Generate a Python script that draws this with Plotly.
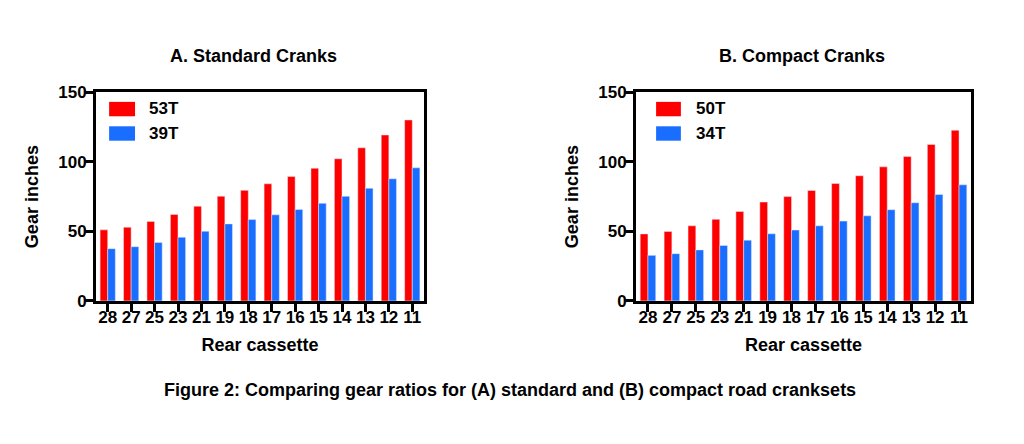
import plotly.graph_objects as go

cogs = ["28", "27", "25", "23", "21", "19", "18", "17", "16", "15", "14", "13", "12", "11"]
std_big = [51.1, 53.0, 57.2, 62.2, 68.1, 75.3, 79.5, 84.2, 89.4, 95.4, 102.2, 110.1, 119.3, 130.1]
std_small = [37.6, 39.0, 42.1, 45.8, 50.1, 55.4, 58.5, 61.9, 65.8, 70.2, 75.2, 81.0, 87.8, 95.7]
cmp_big = [48.2, 50.0, 54.0, 58.7, 64.3, 71.1, 75.0, 79.4, 84.4, 90.0, 96.4, 103.8, 112.5, 122.7]
cmp_small = [32.8, 34.0, 36.7, 39.9, 43.7, 48.3, 51.0, 54.0, 57.4, 61.2, 65.6, 70.6, 76.5, 83.5]
y_ticks = [0, 50, 100, 150]

RED = "#FF0000"
BLUE = "#1A6EFF"
FONT = "Liberation Sans, Arial, sans-serif"

W, H = 1024, 444
dom_left = [96 / W, 424 / W]
dom_right = [636 / W, 971 / W]
dom_y = [139 / H, 357 / H]

fig = go.Figure()
fig.add_trace(go.Bar(x=cogs, y=std_big, marker_color=RED, xaxis="x", yaxis="y", name="53T"))
fig.add_trace(go.Bar(x=cogs, y=std_small, marker_color=BLUE, xaxis="x", yaxis="y", name="39T"))
fig.add_trace(go.Bar(x=cogs, y=cmp_big, marker_color=RED, xaxis="x2", yaxis="y2", name="50T"))
fig.add_trace(go.Bar(x=cogs, y=cmp_small, marker_color=BLUE, xaxis="x2", yaxis="y2", name="34T"))

axis_common = dict(showline=True, linecolor="black", linewidth=3, mirror=True,
                   ticks="outside", tickwidth=3, ticklen=8, tickcolor="black",
                   showgrid=False, zeroline=False,
                   tickfont=dict(family=FONT, size=17, color="black", weight="bold"))

xcommon = dict(axis_common, type="category", ticklabelstandoff=-9,
               title=dict(text="<b>Rear cassette</b>", font=dict(family=FONT, size=18, color="black"), standoff=13))
ycommon = dict(axis_common, range=[0, 150], tickvals=y_ticks, ticklabelstandoff=-5,
               title=dict(text="<b>Gear inches</b>", font=dict(family=FONT, size=18, color="black"), standoff=15))

fig.update_layout(
    width=W, height=H, margin=dict(l=0, r=0, t=0, b=0),
    paper_bgcolor="white", plot_bgcolor="white",
    barmode="group", bargap=0.35, bargroupgap=0,
    showlegend=False,
    xaxis=dict(xcommon, domain=dom_left, anchor="y"),
    yaxis=dict(ycommon, domain=dom_y, anchor="x"),
    xaxis2=dict(xcommon, domain=dom_right, anchor="y2"),
    yaxis2=dict(ycommon, domain=dom_y, anchor="x2"),
)

legend_sets = [("x", "y", ["53T", "39T"], 0.040, 0.119, 0.155),
               ("x2", "y2", ["50T", "34T"], 0.060, 0.134, 0.173)]
for xr, yr, labels, sx0, sx1, tx in legend_sets:
    for i, (lab, col) in enumerate(zip(labels, [RED, BLUE])):
        y1 = 0.954 - i * 0.117
        fig.add_shape(type="rect", xref=f"{xr} domain", yref=f"{yr} domain",
                      x0=sx0, x1=sx1, y0=y1 - 0.069, y1=y1,
                      fillcolor=col, line=dict(width=0))
        fig.add_annotation(xref=f"{xr} domain", yref=f"{yr} domain",
                           x=tx, y=y1 - 0.034, text=f"<b>{lab}</b>", showarrow=False,
                           xanchor="left", yanchor="middle",
                           font=dict(family=FONT, size=17, color="black"))

titles = [("<b>A. Standard Cranks</b>", 253 / W), ("<b>B. Compact Cranks</b>", 802 / W)]
for txt, xc in titles:
    fig.add_annotation(xref="paper", yref="paper", x=xc, y=(H - 49) / H, text=txt,
                       showarrow=False, xanchor="center", yanchor="middle",
                       font=dict(family=FONT, size=18, color="black"))

fig.add_annotation(xref="paper", yref="paper", x=510 / W, y=(H - 398) / H,
                   text="<b>Figure 2: Comparing gear ratios for (A) standard and (B) compact road cranksets</b>",
                   showarrow=False, xanchor="center", yanchor="middle",
                   font=dict(family="Liberation Sans Narrow, Arial Narrow, Liberation Sans, sans-serif", size=18, color="black"))

fig.write_html("out.html")
